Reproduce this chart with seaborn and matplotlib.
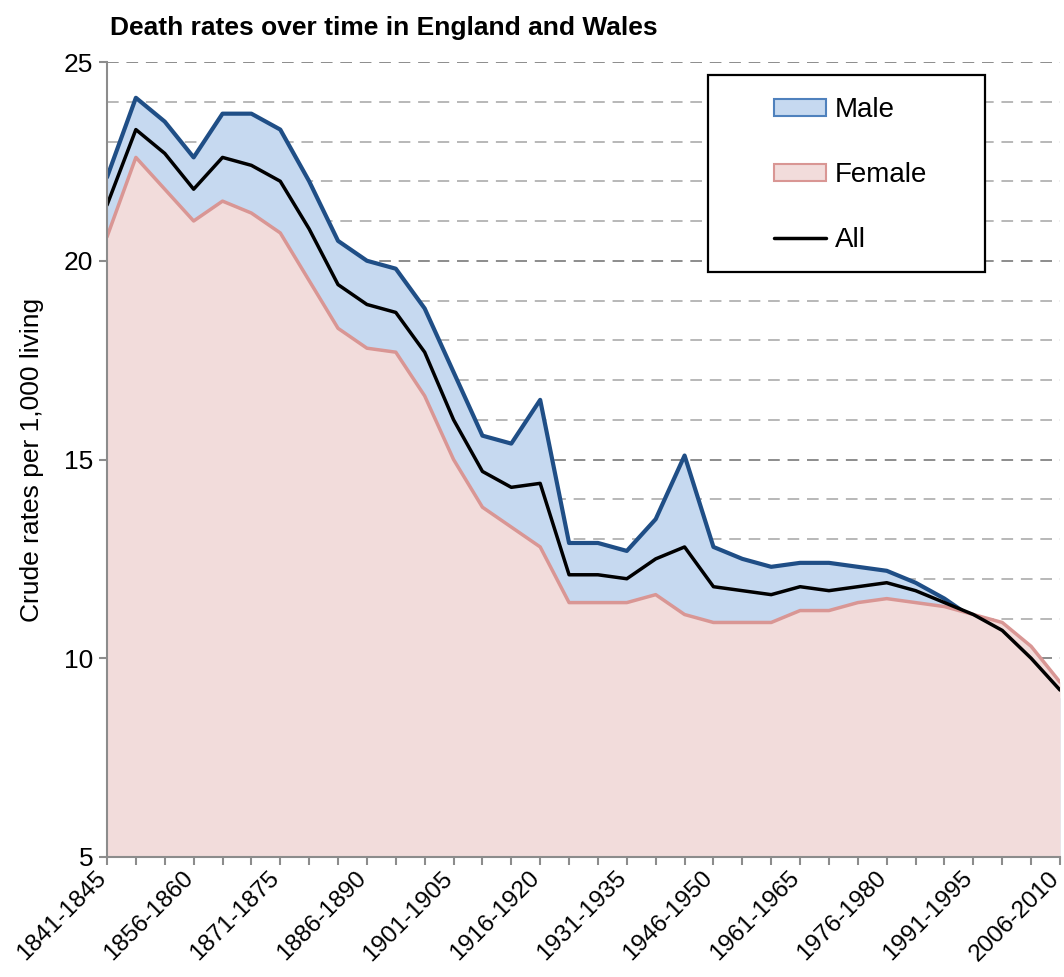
import numpy as np
import pandas as pd
import matplotlib
matplotlib.use("Agg")
import matplotlib.pyplot as plt
import matplotlib.transforms as mtransforms
from matplotlib.patches import Rectangle, Patch
from matplotlib.lines import Line2D
import seaborn as sns

periods = ["1841-1845", "1846-1850", "1851-1855", "1856-1860", "1861-1865", "1866-1870",
           "1871-1875", "1876-1880", "1881-1885", "1886-1890", "1891-1895", "1896-1900",
           "1901-1905", "1906-1910", "1911-1915", "1916-1920", "1921-1925", "1926-1930",
           "1931-1935", "1936-1940", "1941-1945", "1946-1950", "1951-1955", "1956-1960",
           "1961-1965", "1966-1970", "1971-1975", "1976-1980", "1981-1985", "1986-1990",
           "1991-1995", "1996-2000", "2001-2005", "2006-2010"]
male = [22.1, 24.1, 23.5, 22.6, 23.7, 23.7, 23.3, 22.0, 20.5, 20.0, 19.8, 18.8, 17.2, 15.6,
        15.4, 16.5, 12.9, 12.9, 12.7, 13.5, 15.1, 12.8, 12.5, 12.3, 12.4, 12.4, 12.3, 12.2,
        11.9, 11.5, 11.0, 10.5, 9.7, 9.0]
female = [20.6, 22.6, 21.8, 21.0, 21.5, 21.2, 20.7, 19.5, 18.3, 17.8, 17.7, 16.6, 15.0, 13.8,
          13.3, 12.8, 11.4, 11.4, 11.4, 11.6, 11.1, 10.9, 10.9, 10.9, 11.2, 11.2, 11.4, 11.5,
          11.4, 11.3, 11.1, 10.9, 10.3, 9.4]
all_rate = [21.4, 23.3, 22.7, 21.8, 22.6, 22.4, 22.0, 20.8, 19.4, 18.9, 18.7, 17.7, 16.0, 14.7,
            14.3, 14.4, 12.1, 12.1, 12.0, 12.5, 12.8, 11.8, 11.7, 11.6, 11.8, 11.7, 11.8, 11.9,
            11.7, 11.4, 11.1, 10.7, 10.0, 9.2]
labelled_periods = periods[::3]
y_ticks = [5, 10, 15, 20, 25]
series_names = ["Male", "Female", "All"]

sns.set_theme(style="white")
plt.rcParams["font.family"] = ["Liberation Sans", "DejaVu Sans"]
plt.rcParams["text.color"] = "black"
plt.rcParams["axes.labelcolor"] = "black"
plt.rcParams["xtick.color"] = "black"
plt.rcParams["ytick.color"] = "black"

df = pd.DataFrame({"idx": np.arange(len(periods)), "period": periods,
                   "Male": male, "Female": female, "All": all_rate})

fig = plt.figure(figsize=(10.64, 9.77), dpi=100)
ax = fig.add_axes([107 / 1064, 1 - 857 / 977, 953 / 1064, 795 / 977])

male_fill = "#c6d9f0"
male_edge = "#1f4e86"
fem_fill = "#f2dcdb"
fem_edge = "#d99694"

ax.set_ylim(5, 25)
ax.set_xlim(0, len(periods) - 1)

# gridlines
for v in range(6, 26):
    col = "#8c8c8c" if v % 5 == 0 else "#b8b8b8"
    ax.axhline(v, color=col, lw=1.4, ls=(0, (6, 4)), zorder=0)

ax.fill_between(df["idx"], 5, df["Male"], color=male_fill, lw=0, zorder=1)
sns.lineplot(data=df, x="idx", y="Male", ax=ax, color=male_edge, lw=3, zorder=2)
ax.fill_between(df["idx"], 5, df["Female"], color=fem_fill, lw=0, zorder=3)
sns.lineplot(data=df, x="idx", y="Female", ax=ax, color=fem_edge, lw=2.5, zorder=4)
sns.lineplot(data=df, x="idx", y="All", ax=ax, color="black", lw=2.5, zorder=5)

# axes styling
for s in ["top", "right"]:
    ax.spines[s].set_visible(False)
for s in ["left", "bottom"]:
    ax.spines[s].set_color("#8c8c8c")
    ax.spines[s].set_linewidth(1.5)
    ax.spines[s].set_zorder(6)

ax.set_yticks(y_ticks)
ax.set_yticklabels([str(t) for t in y_ticks], fontsize=19)
ax.set_xticks(df["idx"])
ax.set_xticklabels([p if p in labelled_periods else "" for p in periods],
                   rotation=45, ha="right", va="center", rotation_mode="anchor",
                   fontsize=17.5)
ax.tick_params(axis="both", which="both", direction="out", length=6, width=1.5,
               color="#8c8c8c", left=True, bottom=True, pad=4)
ax.tick_params(axis="x", pad=7)
shift = mtransforms.ScaledTranslation(-4 / 100, 0, fig.dpi_scale_trans)
for lab in ax.get_xticklabels():
    lab.set_transform(lab.get_transform() + shift)
ax.set_xlabel("")
ax.set_ylabel("Crude rates per 1,000 living", fontsize=19, labelpad=14)

# legend box
ax.add_patch(Rectangle((0.6306, 0.7358), 0.2907, 0.2478, transform=ax.transAxes,
                       facecolor="white", edgecolor="black", lw=1.6, zorder=7))
handles = [Patch(facecolor=male_fill, edgecolor="#4f81bd", lw=1.5),
           Patch(facecolor=fem_fill, edgecolor=fem_edge, lw=1.5),
           Line2D([0], [0], color="black", lw=2.5)]
leg = ax.legend(handles, series_names, loc="upper left", bbox_to_anchor=(0.679, 0.980),
                frameon=False, fontsize=20, handlelength=1.9, handleheight=0.55,
                handletextpad=0.3, labelspacing=1.4, borderpad=0.2)
leg.set_zorder(8)

fig.text(110 / 1064, 1 - 28 / 977, "Death rates over time in England and Wales",
         fontsize=19, fontweight="bold", ha="left", va="center")

fig.savefig("out.png", dpi=100)
